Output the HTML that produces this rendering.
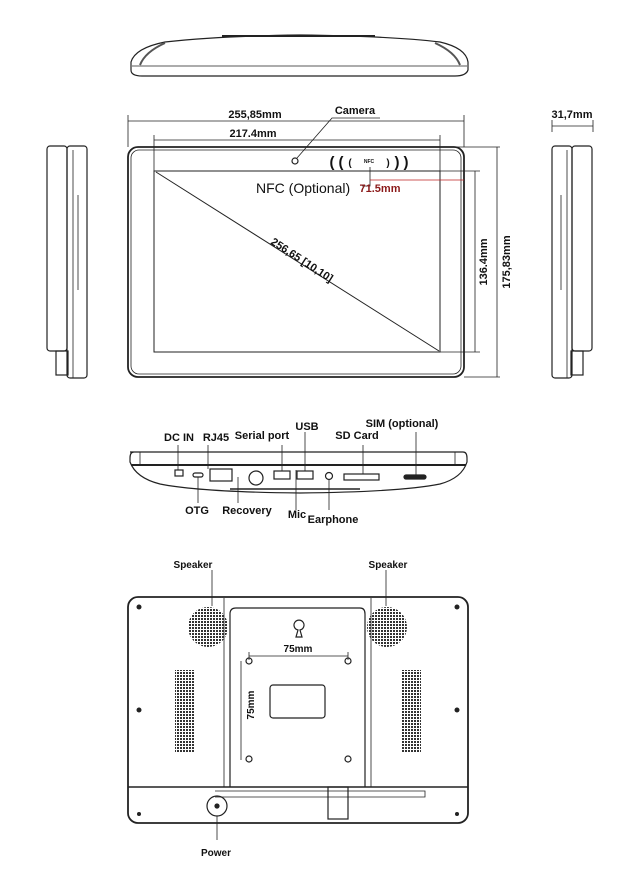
<!DOCTYPE html>
<html><head><meta charset="utf-8"><style>html,body{margin:0;padding:0;background:#fff}svg{display:block}text{font-family:"Liberation Sans",sans-serif;fill:#111}</style></head><body>
<svg width="637" height="890" viewBox="0 0 637 890" xmlns="http://www.w3.org/2000/svg">
<g fill="none" stroke="#222" stroke-width="1.2">
<path d="M131 62 Q135 48 165 42 Q220 36 300 35 Q390 36 440 42 Q466 48 468 62 L468 70 Q466 76 455 76 L142 76 Q131 76 131 70 Z"/>
<path d="M132 66 L467 66" stroke-width="0.8"/>
<path d="M222 36 L375 36" stroke-width="2"/>
<path d="M165 43 Q145 52 140 65 M435 43 Q455 52 460 65" stroke-width="2" stroke="#555"/>
<rect x="47" y="146" width="20" height="205" rx="3"/>
<rect x="67" y="146" width="20" height="232" rx="3"/>
<rect x="56" y="351" width="12" height="24"/>
<path d="M78 195 L78 290 M73 150 L73 378" stroke-width="0.8"/>
<rect x="572" y="146" width="20" height="205" rx="3"/>
<rect x="552" y="146" width="20" height="232" rx="3"/>
<rect x="571" y="351" width="12" height="24"/>
<path d="M561 195 L561 290 M567 150 L567 378" stroke-width="0.8"/>
<path d="M552 126 L593 126" stroke-width="0.8"/>
<path d="M552 120 L552 132 M593 120 L593 132" stroke-width="0.8"/>
<rect x="128" y="147" width="336" height="230" rx="10" stroke-width="1.8"/>
<rect x="131" y="150" width="330" height="224" rx="8" stroke-width="0.8"/>
<rect x="154" y="171" width="286" height="181" stroke-width="1"/>
<path d="M128 121 L464 121 M128 115 L128 147 M464 115 L464 147" stroke-width="0.8"/>
<path d="M154 140 L440 140 M154 135 L154 171 M440 135 L440 171" stroke-width="0.8"/>
<path d="M440 171 L480 171 M440 352 L480 352 M475 171 L475 352" stroke-width="0.8"/>
<path d="M420 147 L500 147 M464 377 L500 377 M497 147 L497 377" stroke-width="0.8"/>
<path d="M156 172 L439 351" stroke-width="1"/>
<circle cx="295" cy="161" r="3"/>
<path d="M297 158 L332 118 L380 118" stroke-width="0.8"/>
<path d="M370 167 L370 186 L362 186" stroke-width="0.8"/>
<path d="M370 180 L464 180" stroke="#b22" stroke-width="0.8"/>
<path d="M130 452 L463 452 Q467 452 467 458 L467 462 Q462 478 440 484 Q400 492 300 493 Q200 492 160 484 Q136 478 130 462 L130 458 Q130 452 134 452 Z"/>
<path d="M131 465 L466 465" stroke-width="2"/>
<path d="M140 452 L140 465 M455 452 L455 465" stroke-width="0.8"/>
<rect x="175" y="470" width="8" height="6"/>
<rect x="193" y="473" width="10" height="4" rx="2"/>
<rect x="210" y="469" width="22" height="12"/>
<circle cx="256" cy="478" r="7"/>
<rect x="274" y="471" width="16" height="8"/>
<rect x="297" y="471" width="16" height="8"/>
<circle cx="329" cy="476" r="3.5"/>
<rect x="344" y="474" width="35" height="6"/>
<rect x="404" y="475" width="22" height="4" rx="2" fill="#222"/>
<path d="M230 489 L360 489" stroke-width="1.5"/>
<path d="M178 445 L178 470 M208 445 L208 469 M282 445 L282 471 M305 432 L305 471 M363 445 L363 474 M416 432 L416 475" stroke-width="0.8"/>
<path d="M198 477 L198 503 M238 477 L238 503 M296 470 L296 510 M329 480 L329 510" stroke-width="0.8"/>
<rect x="128" y="597" width="340" height="226" rx="10" stroke-width="1.8"/>
<path d="M128 787 L468 787" stroke-width="1.5"/>
<path d="M224 598 L224 787 M371 598 L371 787" stroke-width="0.8"/>
<path d="M230 787 L230 614 Q230 608 236 608 L360 608 Q365 608 365 614 L365 787"/>
<path d="M215 791 L425 791 L425 797 L215 797" stroke-width="0.8"/>
<rect x="328" y="787" width="20" height="32"/>
<circle cx="217" cy="806" r="10"/>
<circle cx="217" cy="806" r="2" fill="#222"/>
<path d="M217 816 L217 840 M212 570 L212 606 M386 570 L386 606" stroke-width="0.8"/>
<path d="M249 656 L348 656 M249 652 L249 660 M348 652 L348 660 M241 661 L241 760" stroke-width="0.8"/>
<circle cx="249" cy="661" r="3"/><circle cx="348" cy="661" r="3"/><circle cx="249" cy="759" r="3"/><circle cx="348" cy="759" r="3"/>
<rect x="270" y="685" width="55" height="33" rx="3"/>
<path d="M296 637 L302 637 L300 630 A5 5 0 1 0 298 630 Z"/>
</g>
<g fill="#222">
<circle cx="139" cy="607" r="2.5"/><circle cx="457" cy="607" r="2.5"/><circle cx="139" cy="710" r="2.5"/><circle cx="457" cy="710" r="2.5"/><circle cx="139" cy="814" r="2"/><circle cx="457" cy="814" r="2"/>
</g>
<defs><pattern id="d" width="3" height="3" patternUnits="userSpaceOnUse"><rect width="2" height="2" fill="#333"/></pattern></defs>
<circle cx="208" cy="627" r="20" fill="url(#d)"/>
<circle cx="387" cy="627" r="20" fill="url(#d)"/>
<rect x="175" y="670" width="20" height="82" fill="url(#d)"/>
<rect x="401" y="670" width="20" height="82" fill="url(#d)"/>
<g font-weight="bold">
<text x="255" y="118" font-size="11" text-anchor="middle">255,85mm</text>
<text x="355" y="114" font-size="11" text-anchor="middle">Camera</text>
<text x="253" y="137" font-size="11" text-anchor="middle">217.4mm</text>
<g font-size="15" text-anchor="middle">
<text x="332" y="167">(</text><text x="341" y="167">(</text><text x="350" y="166" font-size="10">(</text>
<text x="369" y="163" font-size="5">NFC</text>
<text x="388" y="166" font-size="10">)</text><text x="397" y="167">)</text><text x="406" y="167">)</text>
</g>
<text x="256" y="193" font-size="14" font-weight="normal">NFC (Optional)</text>
<text x="380" y="192" font-size="11" text-anchor="middle" style="fill:#8b1a1a">71.5mm</text>
<text x="0" y="0" font-size="11" transform="translate(300,263) rotate(33)" text-anchor="middle">256,65 [10,10]</text>
<text x="0" y="0" font-size="11" transform="translate(487,262) rotate(-90)" text-anchor="middle">136.4mm</text>
<text x="0" y="0" font-size="11" transform="translate(510,262) rotate(-90)" text-anchor="middle">175,83mm</text>
<text x="572" y="118" font-size="11" text-anchor="middle">31,7mm</text>
<g font-size="11" text-anchor="middle">
<text x="179" y="441">DC IN</text><text x="216" y="441">RJ45</text><text x="262" y="439">Serial port</text><text x="307" y="430">USB</text><text x="357" y="439">SD Card</text><text x="402" y="427">SIM (optional)</text>
<text x="197" y="514">OTG</text><text x="247" y="514">Recovery</text><text x="297" y="518">Mic</text><text x="333" y="523">Earphone</text>
<text x="193" y="568" font-size="10">Speaker</text><text x="388" y="568" font-size="10">Speaker</text>
<text x="298" y="652" font-size="10">75mm</text>
<text x="216" y="856" font-size="10">Power</text>
</g>
<text x="0" y="0" font-size="10" transform="translate(254,705) rotate(-90)" text-anchor="middle">75mm</text>
</g>
</svg>
</body></html>
